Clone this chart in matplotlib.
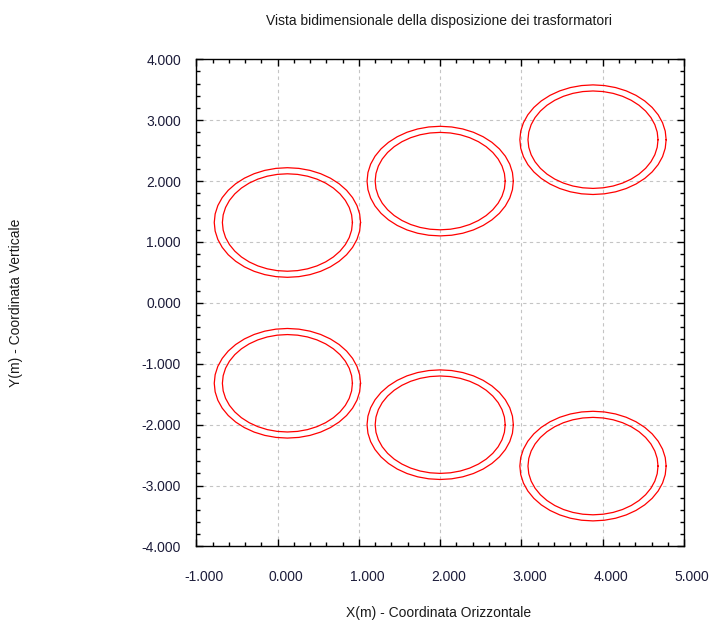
import matplotlib
matplotlib.use("Agg")
import matplotlib.pyplot as plt
import matplotlib.transforms as mtransforms
from matplotlib.ticker import MultipleLocator, FormatStrFormatter
import numpy as np

plt.rcParams['font.family'] = ['Liberation Sans', 'DejaVu Sans']

# centri dei trasformatori (m)
centri_x = [0.12, 2.00, 3.88, 0.12, 2.00, 3.88]
centri_y = [1.32, 2.00, 2.68, -1.32, -2.00, -2.68]
# raggi delle due circonferenze di ogni trasformatore (m)
raggi = [0.90, 0.80]

x_ticks = [-1, 0, 1, 2, 3, 4, 5]
y_ticks = [-4, -3, -2, -1, 0, 1, 2, 3, 4]

fig = plt.figure(figsize=(7.12, 6.21), dpi=100)
ax = fig.add_axes([0.2758, 0.1200, 0.6849, 0.7845])

t = np.linspace(0, 2 * np.pi, 41)
for cx, cy in zip(centri_x, centri_y):
    for r in raggi:
        ax.plot(cx + r * np.cos(t), cy + r * np.sin(t), color='red', lw=0.9)

ax.set_xlim(x_ticks[0], x_ticks[-1])
ax.set_ylim(y_ticks[0], y_ticks[-1])
ax.set_xticks(x_ticks)
ax.set_yticks(y_ticks)
ax.xaxis.set_minor_locator(MultipleLocator(0.2))
ax.yaxis.set_minor_locator(MultipleLocator(0.2))
ax.xaxis.set_major_formatter(FormatStrFormatter('%.3f'))
ax.yaxis.set_major_formatter(FormatStrFormatter('%.3f'))

ax.tick_params(which='both', direction='in', top=True, right=True,
               width=1, color='black')
ax.tick_params(which='major', length=5)
ax.tick_params(which='minor', length=3)
ax.tick_params(axis='y', which='major', pad=11, labelsize=10, labelcolor='#1c1c3a')
ax.tick_params(axis='x', which='major', pad=17, labelsize=10, labelcolor='#1c1c3a')

ax.grid(True, which='major', color='#c4c4c4', linestyle=(0, (3, 3)), lw=0.8)
for s in ax.spines.values():
    s.set_linewidth(1)
    s.set_color('black')

# etichette asse x leggermente spostate a destra
offset = mtransforms.ScaledTranslation(8 / 100, 0, fig.dpi_scale_trans)
for lab in ax.get_xticklabels():
    lab.set_transform(lab.get_transform() + offset)

fig.text(0.6166, 0.966, 'Vista bidimensionale della disposizione dei trasformatori',
         ha='center', va='center', fontsize=10, color='#1a1a1a')
fig.text(0.6166, 0.013, 'X(m) - Coordinata Orizzontale',
         ha='center', va='center', fontsize=10, color='#1a1a1a')
fig.text(0.022, 0.512, 'Y(m) - Coordinata Verticale',
         ha='center', va='center', rotation=90, fontsize=10, color='#1a1a1a')

fig.savefig('out.png', dpi=100)
